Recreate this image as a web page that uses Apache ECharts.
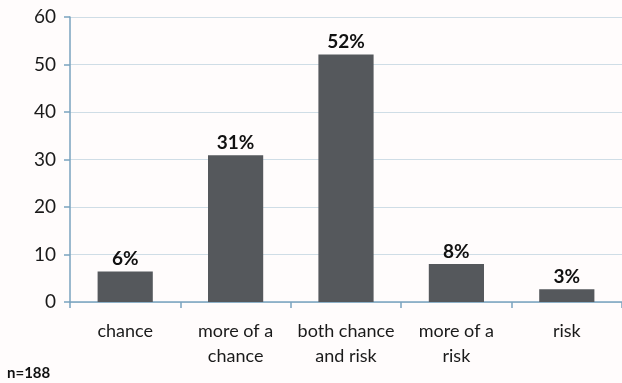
<!DOCTYPE html>
<html>
<head>
<meta charset="utf-8">
<script src="https://cdn.jsdelivr.net/npm/echarts@6/dist/echarts.min.js"></script>
<style>
html, body {margin: 0; padding: 0; background: #fffcfc;}
#chart {width: 622px; height: 383px;}
</style>
</head>
<body>
<div id="chart"></div>
<script>
// answers, n=188
var categories = ['chance', 'more of a\nchance', 'both chance\nand risk', 'more of a\nrisk', 'risk'];
var percents = [6.4, 30.9, 52.1, 8.0, 2.7];
var percentLabels = ['6%', '31%', '52%', '8%', '3%'];
var yTicks = [0, 10, 20, 30, 40, 50, 60];

var axisColor = '#7aa3bf';
var font = 'Lato, "Open Sans", sans-serif';

var chart = echarts.init(document.getElementById('chart'));
chart.setOption({
    animation: false,
    backgroundColor: '#fffcfc',
    grid: {left: 70, top: 17, width: 557, height: 285, containLabel: false},
    graphic: [{
        type: 'text', left: 7, top: 366,
        style: {text: 'n=188', font: 'bold 15px ' + font, fill: '#111'}
    }],
    xAxis: {
        type: 'category',
        data: categories,
        axisLine: {lineStyle: {color: axisColor, width: 1.5}},
        axisTick: {show: true, length: 6, alignWithLabel: false, lineStyle: {color: axisColor, width: 1.5}},
        axisLabel: {interval: 0, color: '#1a1a1a', fontSize: 18, fontFamily: font, lineHeight: 25, margin: 17}
    },
    yAxis: {
        type: 'value',
        min: yTicks[0],
        max: yTicks[yTicks.length - 1],
        interval: 10,
        axisLine: {show: true, lineStyle: {color: axisColor, width: 1.5}},
        axisTick: {show: true, length: 6, lineStyle: {color: axisColor, width: 1.5}},
        axisLabel: {color: '#1a1a1a', fontSize: 19, fontFamily: font, margin: 14},
        splitLine: {lineStyle: {color: '#cfdde6', width: 1}}
    },
    series: [{
        type: 'bar',
        data: percents,
        barWidth: '50%',
        itemStyle: {color: '#55585c'},
        label: {
            show: true,
            position: 'top',
            distance: 3,
            color: '#111',
            fontSize: 19,
            fontWeight: 'bold',
            fontFamily: font,
            formatter: function(p) { return percentLabels[p.dataIndex]; }
        }
    }]
});
</script>
</body>
</html>
